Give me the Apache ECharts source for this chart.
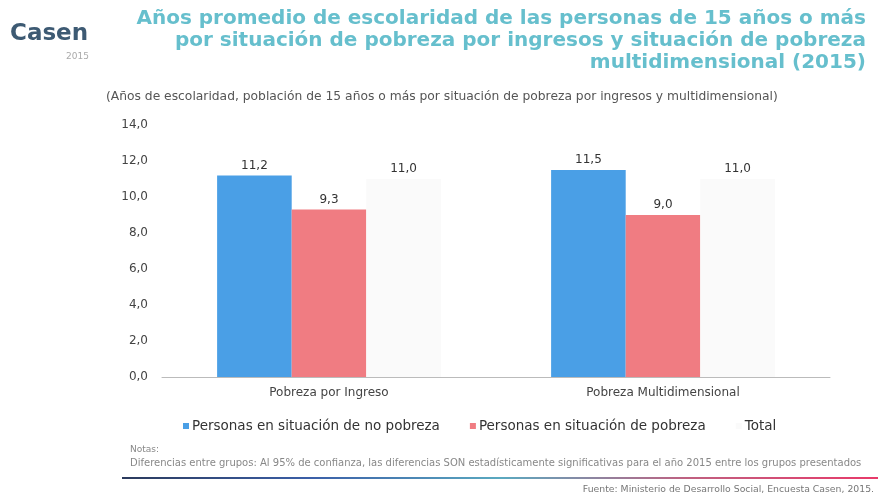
<!DOCTYPE html>
<html>
<head>
<meta charset="utf-8">
<script src="https://cdn.jsdelivr.net/npm/echarts@6/dist/echarts.min.js"></script>
<style>
  html, body { margin: 0; padding: 0; background: #fff; }
  #chart { width: 878px; height: 500px; }
</style>
</head>
<body>
<div id="chart"></div>
<script>
// categorias y valores (años de escolaridad)
var categories = ['Pobreza por Ingreso', 'Pobreza Multidimensional']
var noPobreza = [11.2, 11.5]
var pobreza = [9.3, 9.0]
var total = [11.0, 11.0]
var seriesNames = [
  'Personas en situación de no pobreza',
  'Personas en situación de pobreza',
  'Total'
]
var titleLines = [
  'Años promedio de escolaridad de las personas de 15 años o más',
  'por situación de pobreza por ingresos y situación de pobreza',
  'multidimensional (2015)'
]

var font = 'DejaVu Sans'

function fmt(v) {
  return v.toFixed(1).replace('.', ',')
}

function barLabel() {
  return {
    show: true,
    position: 'top',
    distance: 4,
    color: '#333',
    fontFamily: font,
    fontSize: 12,
    formatter: function (p) { return fmt(p.value) }
  }
}

// titulo: una linea por texto, alineado a la derecha
var titleGraphics = titleLines.map(function (t, i) {
  return {
    type: 'text', x: 866, y: 9 + i * 22,
    style: {
      text: t, align: 'right', verticalAlign: 'top',
      fontFamily: font, fontWeight: 'bold', fontSize: 20,
      fill: '#66bfcd'
    }
  }
})

var chart = echarts.init(document.getElementById('chart'))

chart.setOption({
  backgroundColor: '#fff',
  animation: false,
  grid: { left: 162, right: 48, top: 125, bottom: 123 },
  legend: {
    data: seriesNames,
    left: 178,
    top: 414,
    itemWidth: 6,
    itemHeight: 6,
    itemGap: 30,
    icon: 'rect',
    textStyle: { fontFamily: font, fontSize: 13.5, color: '#333', padding: [0, 0, 0, -2] }
  },
  xAxis: {
    type: 'category',
    data: categories,
    axisLine: { lineStyle: { color: '#bbb' } },
    axisTick: { show: false },
    axisLabel: { fontFamily: font, fontSize: 12, color: '#444', margin: 10 }
  },
  yAxis: {
    type: 'value',
    min: 0,
    max: 14,
    interval: 2,
    splitLine: { show: false },
    axisLine: { show: false },
    axisTick: { show: false },
    axisLabel: {
      fontFamily: font, fontSize: 12, color: '#444', margin: 14,
      formatter: function (v) { return fmt(v) }
    }
  },
  series: [
    {
      name: seriesNames[0], type: 'bar', data: noPobreza,
      barGap: '0%', barCategoryGap: '33%',
      itemStyle: { color: '#4a9fe6' },
      label: barLabel()
    },
    {
      name: seriesNames[1], type: 'bar', data: pobreza,
      itemStyle: { color: '#f07c82' },
      label: barLabel()
    },
    {
      name: seriesNames[2], type: 'bar', data: total,
      itemStyle: { color: '#fafafa' },
      label: barLabel()
    }
  ],
  graphic: titleGraphics.concat([
    {
      type: 'text', left: 10, top: 23,
      style: { text: 'Casen', fontFamily: font, fontWeight: 'bold', fontSize: 23, fill: '#3d5a73' }
    },
    {
      type: 'text', left: 66, top: 52,
      style: { text: '2015', fontFamily: font, fontSize: 9, fill: '#aaa' }
    },
    {
      type: 'text', left: 106, top: 91,
      style: {
        text: '(Años de escolaridad, población de 15 años o más por situación de pobreza por ingresos y multidimensional)',
        fontFamily: font, fontSize: 12.3, fill: '#555'
      }
    },
    {
      type: 'text', left: 130, top: 445,
      style: { text: 'Notas:', fontFamily: font, fontSize: 9, fill: '#888' }
    },
    {
      type: 'text', left: 130, top: 458,
      style: {
        text: 'Diferencias entre grupos: Al 95% de confianza, las diferencias SON estadísticamente significativas para el año 2015 entre los grupos presentados',
        fontFamily: font, fontSize: 10, fill: '#888'
      }
    },
    {
      type: 'rect',
      shape: { x: 122, y: 477, width: 756, height: 2 },
      style: {
        fill: new echarts.graphic.LinearGradient(0, 0, 1, 0, [
          { offset: 0, color: '#2b3a5c' },
          { offset: 0.25, color: '#3b5fa8' },
          { offset: 0.5, color: '#5aa9c0' },
          { offset: 0.75, color: '#c06080' },
          { offset: 1, color: '#e83a6a' }
        ])
      }
    },
    {
      type: 'text', right: 4, top: 485,
      style: {
        text: 'Fuente: Ministerio de Desarrollo Social, Encuesta Casen, 2015.',
        fontFamily: font, fontSize: 9.3, fill: '#777'
      }
    }
  ])
})
</script>
</body>
</html>
